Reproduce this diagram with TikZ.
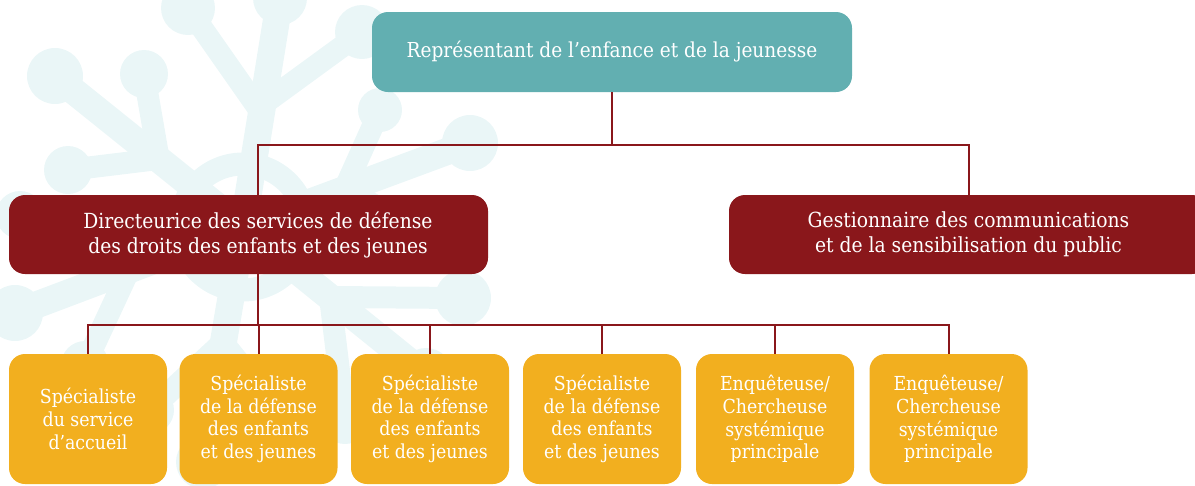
\documentclass[tikz,border=0pt]{standalone}
\usepackage{fontspec}
\setmainfont{DejaVu Serif Condensed}
\definecolor{tealc}{HTML}{62AFB1}
\definecolor{dred}{HTML}{8A171B}
\definecolor{goldc}{HTML}{F2AF1F}
\definecolor{snowc}{HTML}{EAF6F7}
\begin{document}
\begin{tikzpicture}[x=1pt,y=-1pt,
  box/.style={rounded corners=16pt, inner sep=0pt, text=white, align=center},
  conn/.style={draw=dred, line width=2pt},
  snow/.style={draw=snowc, line width=27pt, line cap=round},
  twig/.style={draw=snowc, line width=22pt, line cap=round},
  blob/.style={fill=snowc},
  topfont/.style={font=\fontsize{20.6}{25}\selectfont},
  bigfont/.style={font=\fontsize{20.8}{25}\selectfont},
  smallfont/.style={font=\fontsize{19.3}{22.7}\selectfont}]
\useasboundingbox (0,0) rectangle (1195,485);
% background snowflake
\draw[draw=snowc, line width=23pt] (243,227) circle (63);
\draw[snow] (243,227) -- (280,-2);
\draw[snow] (243,227) -- (55,76);
\draw[snow] (243,227) -- (15,313);
\draw[snow] (243,227) -- (203,462);
\draw[snow] (243,227) -- (426,375);
\draw[snow] (243,227) -- (470,143);
\draw[twig] (258,108) -- (188,8);
\draw[twig] (262,105) -- (362,32);
\draw[twig] (158,155) -- (144,74);
\draw[twig] (150,160) -- (68,170);
\draw[twig] (130,268) -- (20,215);
\draw[twig] (130,268) -- (85,365);
\draw[twig] (220,345) -- (150,410);
\draw[twig] (225,345) -- (290,425);
\draw[twig] (330,297) -- (463,298);
\draw[twig] (330,297) -- (345,420);
\draw[twig] (345,188) -- (380,110);
\draw[twig] (345,188) -- (425,235);
\fill[blob] (280,-2) circle (27);
\fill[blob] (55,76) circle (28);
\fill[blob] (15,313) circle (28);
\fill[blob] (203,462) circle (27);
\fill[blob] (426,375) circle (27);
\fill[blob] (470,143) circle (28);
\fill[blob] (188,8) circle (27);
\fill[blob] (362,32) circle (27);
\fill[blob] (144,74) circle (24);
\fill[blob] (68,170) circle (24);
\fill[blob] (20,215) circle (24);
\fill[blob] (85,365) circle (24);
\fill[blob] (150,410) circle (24);
\fill[blob] (290,425) circle (24);
\fill[blob] (463,298) circle (28);
\fill[blob] (345,420) circle (24);
\fill[blob] (380,110) circle (22);
\fill[blob] (425,235) circle (22);
% boxes
\node[box, fill=tealc, minimum width=480pt, minimum height=80pt, topfont] (top) at (612,52) {Représentant de l’enfance et de la jeunesse};
\node[box, fill=dred, minimum width=479pt, minimum height=79pt] (dir) at (248.5,234.5) {};
\node[text=white, align=center, inner sep=0pt, bigfont] (dirtext) at (258,235) {Directeurice des services de défense\\des droits des enfants et des jeunes};
\node[box, fill=dred, minimum width=479pt, minimum height=79pt, bigfont] (gest) at (968.5,234.5) {Gestionnaire des communications\\et de la sensibilisation du public};
\node[box, fill=goldc, minimum width=158pt, minimum height=130pt, smallfont] (s1) at (88,419) {Spécialiste\\du service\\d’accueil};
\node[box, fill=goldc, minimum width=158pt, minimum height=130pt, smallfont] (s2) at (258.5,419) {Spécialiste\\de la défense\\des enfants\\et des jeunes};
\node[box, fill=goldc, minimum width=158pt, minimum height=130pt, smallfont] (s3) at (430,419) {Spécialiste\\de la défense\\des enfants\\et des jeunes};
\node[box, fill=goldc, minimum width=158pt, minimum height=130pt, smallfont] (s4) at (602,419) {Spécialiste\\de la défense\\des enfants\\et des jeunes};
\node[box, fill=goldc, minimum width=158pt, minimum height=130pt, smallfont] (s5) at (775,419) {Enquêteuse/\\Chercheuse\\systémique\\principale};
\node[box, fill=goldc, minimum width=158pt, minimum height=130pt, smallfont] (s6) at (948.5,419) {Enquêteuse/\\Chercheuse\\systémique\\principale};
% connectors
\coordinate (j1) at (612,145);
\coordinate (j2) at (258,325);
\draw[conn] (top.south) -- (j1);
\draw[conn] (dirtext |- dir.north) |- (j1) -| (gest.north);
\draw[conn] (dirtext |- dir.south) -- (j2);
\draw[conn] (s1.north) |- (s6.north |- j2) -- (s6.north);
\draw[conn] (s2.north) -- (s2.north |- j2);
\draw[conn] (s3.north) -- (s3.north |- j2);
\draw[conn] (s4.north) -- (s4.north |- j2);
\draw[conn] (s5.north) -- (s5.north |- j2);
\end{tikzpicture}
\end{document}
